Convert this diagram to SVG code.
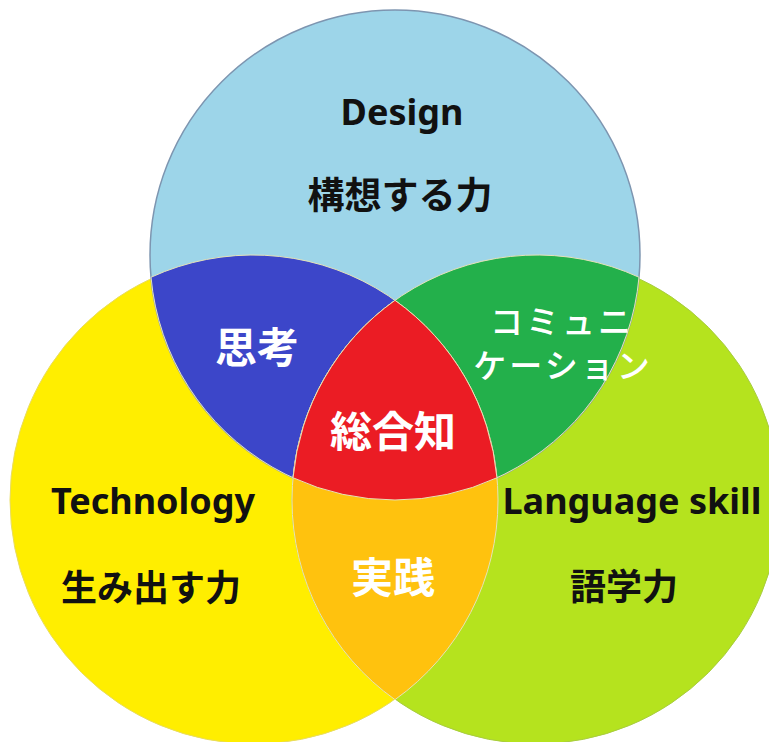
<svg xmlns="http://www.w3.org/2000/svg" width="769" height="742" viewBox="0 0 769 742">
<style>
.lat{font-family:"Noto Sans","Noto Sans CJK JP",sans-serif;font-weight:700;fill:#111;text-anchor:middle}
.jp{font-family:"Noto Sans CJK JP",sans-serif;font-weight:700;text-anchor:middle;dominant-baseline:central}
.blk{fill:#111}
.wht{fill:#fff}
.med{font-weight:500}
.edge{stroke:#e6e2b8;stroke-width:1}
</style>
<rect width="769" height="742" fill="#fff"/>
<g id="technology">
<circle cx="254" cy="500" r="244" fill="#ffee00" stroke="#e8dc60" stroke-width="1"/>
</g>
<g id="language">
<circle cx="536" cy="500" r="244" fill="#b5e31e" stroke="#a8cc40" stroke-width="1"/>
</g>
<g id="design">
<circle cx="395" cy="255" r="245" fill="#9dd5e9" stroke="#7d95b0" stroke-width="1.5"/>
</g>
<g id="thinking">
<path class="edge" d="M151.02,277.24 A245,245 0 0 1 496.98,477.76 A245,245 0 0 1 151.02,277.24 Z" fill="#3c46c9"/>
</g>
<g id="communication">
<path class="edge" d="M293.02,477.76 A245,245 0 0 1 638.98,277.24 A245,245 0 0 1 293.02,477.76 Z" fill="#23b04b"/>
</g>
<g id="practice">
<path class="edge" d="M395,300.34 A245,245 0 0 0 395,699.66 A245,245 0 0 0 395,300.34 Z" fill="#ffc20e"/>
</g>
<g id="synthesis">
<path class="edge" d="M395,300.34 A245,245 0 0 0 293.02,477.76 A245,245 0 0 0 496.98,477.76 A245,245 0 0 0 395,300.34 Z" fill="#eb1c24"/>
</g>
<g id="connectors"></g>
<g id="labels">
<text class="lat" x="402" y="125" font-size="36">Design</text>
<text class="jp blk" x="400" y="193" font-size="37">構想する力</text>
<text class="jp wht" x="257" y="344" font-size="42">思考</text>
<text class="jp wht" x="393" y="428" font-size="42">総合知</text>
<text class="jp wht med" x="562" y="320" font-size="33" letter-spacing="3">コミュニ</text>
<text class="jp wht med" x="563" y="364" font-size="33" letter-spacing="3">ケーション</text>
<text class="lat" x="153" y="514" font-size="36">Technology</text>
<text class="lat" x="632" y="514" font-size="36">Language skill</text>
<text class="jp blk" x="151" y="585" font-size="36">生み出す力</text>
<text class="jp wht" x="393" y="574" font-size="42">実践</text>
<text class="jp blk" x="624" y="584" font-size="36">語学力</text>
</g>
</svg>
